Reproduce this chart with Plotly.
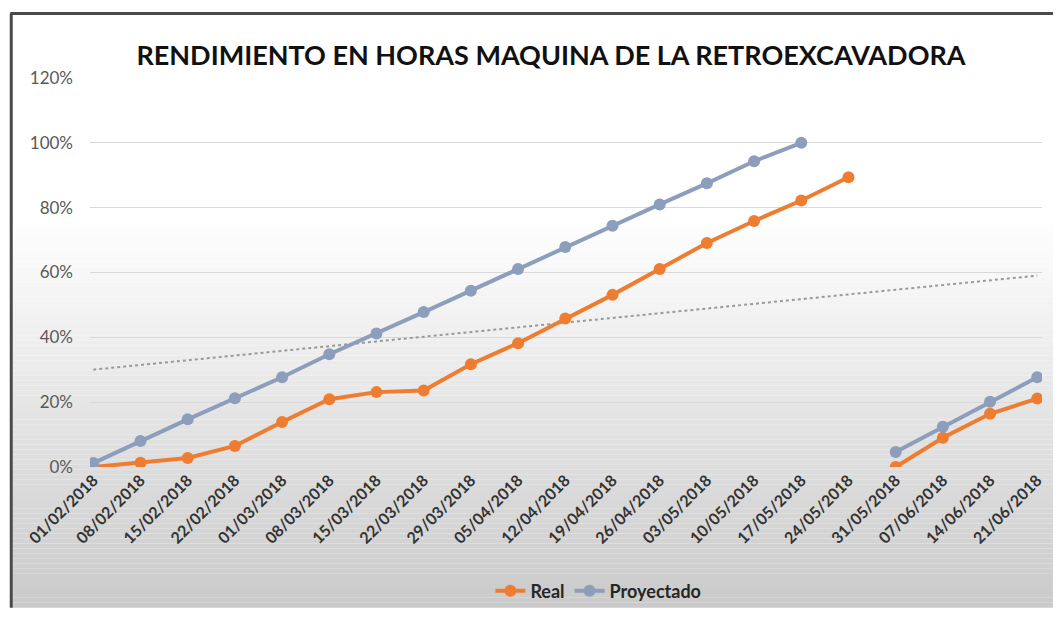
import numpy as np
import plotly.graph_objects as go

fechas = [
    "01/02/2018", "08/02/2018", "15/02/2018", "22/02/2018", "01/03/2018",
    "08/03/2018", "15/03/2018", "22/03/2018", "29/03/2018", "05/04/2018",
    "12/04/2018", "19/04/2018", "26/04/2018", "03/05/2018", "10/05/2018",
    "17/05/2018", "24/05/2018", "31/05/2018", "07/06/2018", "14/06/2018",
    "21/06/2018",
]
real = [0.0, 1.3, 2.8, 6.5, 13.9, 20.9, 23.1, 23.6, 31.7, 38.2, 45.8,
        53.1, 61.1, 69.1, 75.9, 82.2, 89.4, 0.0, 9.0, 16.4, 21.1]
proyectado = [1.2, 8.0, 14.7, 21.2, 27.7, 34.8, 41.2, 47.8, 54.4, 61.1, 67.9,
              74.4, 81.0, 87.5, 94.3, 100.0, None, 4.6, 12.4, 20.1, 27.7]
reinicio = "31/05/2018"  # the Real series starts again here

NARANJA = "#EE7D31"
AZUL = "#8C9EBB"

# plot area in pixels (fig is 1056 x 620)
W, H = 1056, 620
L, R, T, B = 90, 1045, 78, 476


def px(x):
    return (x - L) / (R - L)


def py(y):
    return (B - y) / (B - T)


idx = list(range(len(fechas)))

# break the Real line where the series restarts
cut = fechas.index(reinicio)
real_x = idx[:cut] + [None] + idx[cut:]
real_y = [v / 100 for v in real[:cut]] + [None] + [v / 100 for v in real[cut:]]

proy_y = [None if v is None else v / 100 for v in proyectado]

# linear trendline of Proyectado
xs = np.array([i for i, v in zip(idx, proyectado) if v is not None])
ys = np.array([v for v in proyectado if v is not None]) / 100
m, c = np.polyfit(xs, ys, 1)
trend_x = [idx[0], idx[-1]]
trend_y = [m * x + c for x in trend_x]

fig = go.Figure()

fig.add_trace(go.Scatter(
    x=trend_x, y=trend_y, mode="lines", showlegend=False, hoverinfo="skip",
    line=dict(color="#9a9a9a", width=2, dash="dot"),
))
fig.add_trace(go.Scatter(
    x=real_x, y=real_y, name="Real", mode="lines+markers",
    line=dict(color=NARANJA, width=4), marker=dict(size=12, color=NARANJA),
))
fig.add_trace(go.Scatter(
    x=idx, y=proy_y, name="Proyectado", mode="lines+markers",
    line=dict(color=AZUL, width=4), marker=dict(size=12, color=AZUL),
))

# background: white at the top fading to grey at the bottom
shapes = []
n = 120
top, bottom = 13, H
for i in range(n):
    y0 = top + (bottom - top) * i / n
    y1 = top + (bottom - top) * (i + 1) / n
    ym = (y0 + y1) / 2
    t = max(0.0, (ym - 220) / (bottom - 220))
    g = int(round(255 - 53 * t))
    shapes.append(dict(
        type="rect", xref="paper", yref="paper", layer="below",
        x0=px(12), x1=px(W), y0=py(y1), y1=py(y0),
        fillcolor=f"rgb({g},{g},{g})", line=dict(width=0),
    ))

# frame lines of the screenshot
shapes.append(dict(type="line", xref="paper", yref="paper",
                   x0=px(10), x1=px(W), y0=py(12), y1=py(12),
                   line=dict(color="#4a4a4a", width=3)))
shapes.append(dict(type="line", xref="paper", yref="paper",
                   x0=px(11), x1=px(11), y0=py(12), y1=py(H),
                   line=dict(color="#4a4a4a", width=3)))

fig.update_layout(
    width=W, height=H,
    margin=dict(l=L, r=W - R, t=T, b=H - B),
    paper_bgcolor="white",
    plot_bgcolor="rgba(0,0,0,0)",
    font=dict(family="Lato", color="#404040"),
    title=dict(
        text="<b>RENDIMIENTO EN HORAS MAQUINA DE LA RETROEXCAVADORA</b>",
        x=551 / W, xanchor="center", y=1 - 56 / H, yanchor="middle",
        font=dict(family="Lato", size=27, color="#111111"),
    ),
    shapes=shapes,
    showlegend=True,
    legend=dict(
        orientation="h", x=px(600), xanchor="center", y=py(603), yanchor="middle",
        font=dict(family="Lato", size=18, color="#262626", weight="bold"),
        bgcolor="rgba(0,0,0,0)",
    ),
    xaxis=dict(
        range=[-0.07, 20.1], tickmode="array", tickvals=idx, ticktext=fechas,
        tickangle=-45, showgrid=False, zeroline=False, showline=False,
        tickfont=dict(family="Lato", size=16, color="#333333", weight="bold"),
    ),
    yaxis=dict(
        range=[0, 1.2], dtick=0.2, tickformat=".0%", showgrid=True,
        gridcolor="#d9d9d9", gridwidth=1, zeroline=False, showline=False,
        tickfont=dict(family="Lato", size=17, color="#595959"),
        ticklabelstandoff=16,
    ),
)

fig.write_html("out.html", config={"displayModeBar": False},
               post_script="document.body.style.margin='0';")
